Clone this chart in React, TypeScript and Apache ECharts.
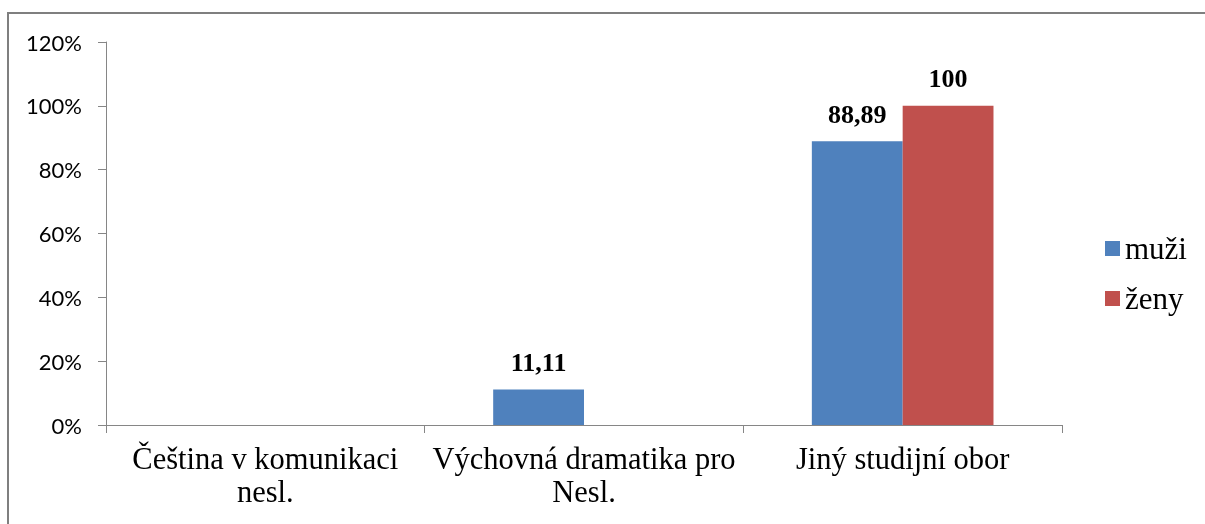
import React, { useEffect, useRef } from "react";
import * as echarts from "echarts";

const categories = ["Čeština v komunikaci\nnesl.", "Výchovná dramatika pro\nNesl.", "Jiný studijní obor"];
const muzi = [0, 11.11, 88.89];
const zeny = [0, 0, 100];
const seriesNames = ["muži", "ženy"];

export default function App() {
  const ref = useRef<HTMLDivElement>(null);
  useEffect(() => {
    document.body.style.margin = "0";
    const chart = echarts.init(ref.current!, null, { renderer: "svg" });
    const labelCfg = {
      show: true,
      position: "top",
      distance: 14,
      fontFamily: "Liberation Serif",
      fontWeight: "bold",
      fontSize: 26,
      color: "#000",
      formatter: (p: any) => (p.value === 0 ? "" : String(p.value).replace(".", ",")),
    };
    chart.setOption({
      animation: false,
      graphic: [
        {
          type: "rect",
          shape: { x: 8, y: 13, width: 1210, height: 530 },
          style: { fill: "none", stroke: "#7f7f7f", lineWidth: 2 },
          silent: true,
        },
      ],
      grid: { left: 106, right: 143, top: 42, bottom: 99 },
      legend: {
        orient: "vertical",
        left: 1100,
        top: 228,
        itemWidth: 15,
        itemHeight: 15,
        itemGap: 19,
        icon: "rect",
        data: seriesNames,
        textStyle: { fontFamily: "Liberation Serif", fontSize: 31, color: "#000" },
      },
      xAxis: {
        type: "category",
        data: categories,
        axisLine: { lineStyle: { color: "#868686", width: 1 } },
        axisTick: { show: true, length: 8, lineStyle: { color: "#868686" } },
        axisLabel: {
          interval: 0,
          margin: 17,
          fontFamily: "Liberation Serif",
          fontSize: 30.5,
          lineHeight: 33,
          color: "#000",
        },
      },
      yAxis: {
        type: "value",
        min: 0,
        max: 120,
        interval: 20,
        axisLine: { show: true, lineStyle: { color: "#868686", width: 1 } },
        axisTick: { show: true, length: 8, lineStyle: { color: "#868686" } },
        splitLine: { show: false },
        axisLabel: {
          formatter: "{value}%",
          margin: 24,
          fontFamily: "Lato",
          fontSize: 22,
          color: "#000",
        },
      },
      series: [
        {
          name: seriesNames[0],
          type: "bar",
          data: muzi,
          barGap: "0%",
          barCategoryGap: "43%",
          itemStyle: { color: "#4F81BD" },
          label: labelCfg,
        },
        {
          name: seriesNames[1],
          type: "bar",
          data: zeny,
          itemStyle: { color: "#C0504D" },
          label: labelCfg,
        },
      ],
    });
    return () => chart.dispose();
  }, []);
  return <div ref={ref} style={{ position: "fixed", left: 0, top: 0, width: 1205, height: 524 }} />;
}
